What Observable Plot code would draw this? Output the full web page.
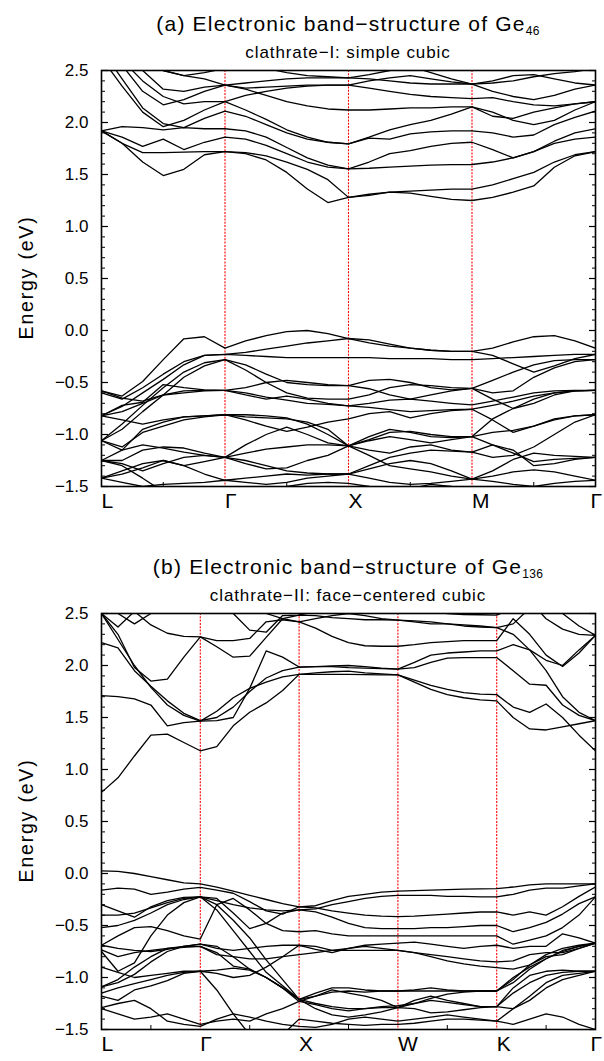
<!DOCTYPE html>
<html>
<head>
<meta charset="utf-8">
<script src="https://cdn.jsdelivr.net/npm/d3@7"></script>
<script src="https://cdn.jsdelivr.net/npm/@observablehq/plot@0.6"></script>
<style>
  html, body { margin: 0; padding: 0; background: #fff; }
  body { width: 604px; height: 1061px; position: relative; overflow: hidden;
         font-family: "Liberation Sans", Arial, Helvetica, sans-serif; color: #000; }
  .abs { position: absolute; }
  .title { left: 101px; width: 494px; text-align: center; font-size: 21px; line-height: 21px; letter-spacing: 1.2px; white-space: nowrap; }
  .title sub { font-size: 12px; vertical-align: -4px; letter-spacing: 0.3px; }
  .sub { left: 101px; width: 494px; text-align: center; font-size: 17px; line-height: 17px; letter-spacing: 0.9px; white-space: nowrap; }
  .ylab { font-size: 19.5px; letter-spacing: 1.8px; white-space: nowrap; transform-origin: center center; }
  svg { display: block; }
</style>
</head>
<body>
<div id="root"></div>
<script>
// ---------------- data ----------------
const STEPS = 6; // k samples per path segment
const kLabelsA = ["L", "Γ", "X", "M", "Γ"];
const kLabelsB = ["L", "Γ", "X", "W", "K", "Γ"];
const energyTicks = [-1.5, -1.0, -0.5, 0.0, 0.5, 1.0, 1.5, 2.0, 2.5];
const titleA = ["(a) Electronic band−structure of Ge", "46", "clathrate−I: simple cubic"];
const titleB = ["(b) Electronic band−structure of Ge", "136", "clathrate−II: face−centered cubic"];

// Ge46, path L-Γ-X-M-Γ, 6 samples per segment (25 values per band), eV
const bandsA = [
  // conduction bands
  [1.92,1.80,1.62,1.49,1.55,1.69,1.72, 1.70,1.64,1.52,1.36,1.23,1.28, 1.30,1.33,1.32,1.29,1.26,1.25, 1.28,1.33,1.39,1.57,1.68,1.72],
  [1.92,1.80,1.71,1.71,1.715,1.72,1.72, 1.71,1.68,1.62,1.55,1.45,1.28, 1.31,1.33,1.34,1.35,1.36,1.36, 1.40,1.46,1.52,1.62,1.69,1.72],
  [1.92,1.86,1.77,1.84,1.74,1.81,1.86, 1.84,1.78,1.70,1.62,1.57,1.555, 1.56,1.57,1.58,1.59,1.595,1.596, 1.62,1.66,1.72,1.80,1.84,1.86],
  [1.92,1.96,1.95,1.93,1.95,1.94,1.94, 1.92,1.86,1.76,1.66,1.59,1.555, 1.62,1.70,1.73,1.77,1.80,1.81, 1.74,1.66,1.72,1.82,1.90,1.94],
  [2.62,2.35,2.10,1.96,2.02,2.12,2.20, 2.12,2.03,1.93,1.86,1.81,1.795, 1.85,1.84,1.89,1.91,1.92,1.92, 1.90,1.86,1.88,1.98,2.05,2.11],
  [2.70,2.42,2.14,1.99,1.95,2.04,2.11, 2.06,1.98,1.90,1.84,1.81,1.795, 1.86,1.93,1.98,2.02,2.08,2.15, 2.10,2.02,1.98,2.02,2.12,2.20],
  [2.75,2.55,2.30,2.17,2.22,2.30,2.36, 2.32,2.26,2.20,2.16,2.13,2.12, 2.12,2.13,2.14,2.14,2.15,2.15, 2.06,2.04,2.10,2.14,2.18,2.20],
  [2.80,2.60,2.40,2.25,2.18,2.20,2.20, 2.26,2.30,2.33,2.35,2.36,2.36, 2.33,2.30,2.27,2.25,2.24,2.23, 2.24,2.20,2.17,2.16,2.18,2.20],
  [2.90,2.70,2.50,2.32,2.30,2.34,2.36, 2.38,2.40,2.42,2.43,2.43,2.43, 2.42,2.40,2.38,2.37,2.37,2.37, 2.30,2.25,2.22,2.26,2.32,2.36],
  [3.00,2.80,2.60,2.50,2.45,2.42,2.36, 2.33,2.34,2.35,2.36,2.36,2.36, 2.40,2.43,2.45,2.42,2.39,2.37, 2.40,2.45,2.46,2.42,2.38,2.36],
  [3.00,2.85,2.62,2.50,2.45,2.48,2.52, 2.55,2.52,2.48,2.45,2.44,2.43, 2.46,2.50,2.54,2.48,2.42,2.37, 2.38,2.40,2.44,2.47,2.49,2.52],
  // valence bands
  [-0.58,-0.63,-0.49,-0.28,-0.08,-0.06,-0.17, -0.10,-0.05,-0.01,0.00,-0.03,-0.077, -0.12,-0.15,-0.17,-0.19,-0.20,-0.20, -0.17,-0.11,-0.06,-0.05,-0.10,-0.17],
  [-0.60,-0.66,-0.55,-0.42,-0.30,-0.24,-0.23, -0.21,-0.18,-0.15,-0.12,-0.10,-0.077, -0.09,-0.13,-0.17,-0.19,-0.20,-0.20, -0.24,-0.32,-0.40,-0.34,-0.27,-0.23],
  [-0.82,-0.73,-0.60,-0.47,-0.33,-0.24,-0.23, -0.24,-0.25,-0.26,-0.26,-0.26,-0.26, -0.26,-0.27,-0.27,-0.27,-0.28,-0.28, -0.27,-0.26,-0.25,-0.24,-0.23,-0.23],
  [-1.06,-0.90,-0.72,-0.55,-0.40,-0.31,-0.28, -0.33,-0.42,-0.50,-0.52,-0.53,-0.53, -0.48,-0.47,-0.50,-0.55,-0.57,-0.556, -0.48,-0.40,-0.33,-0.29,-0.28,-0.28],
  [-1.06,-0.95,-0.78,-0.62,-0.45,-0.34,-0.28, -0.38,-0.50,-0.60,-0.65,-0.66,-0.66, -0.62,-0.55,-0.52,-0.53,-0.55,-0.556, -0.60,-0.58,-0.45,-0.36,-0.30,-0.28],
  [-0.58,-0.65,-0.68,-0.62,-0.58,-0.575,-0.575, -0.60,-0.64,-0.67,-0.70,-0.71,-0.725, -0.70,-0.67,-0.66,-0.68,-0.70,-0.716, -0.68,-0.64,-0.60,-0.58,-0.575,-0.575],
  [-0.82,-0.72,-0.69,-0.52,-0.55,-0.57,-0.575, -0.62,-0.66,-0.63,-0.66,-0.70,-0.725, -0.74,-0.76,-0.78,-0.77,-0.76,-0.757, -0.72,-0.68,-0.63,-0.60,-0.58,-0.575],
  [-1.25,-1.15,-0.95,-0.88,-0.83,-0.82,-0.81, -0.81,-0.82,-0.84,-0.90,-1.00,-1.11, -1.05,-0.98,-0.97,-1.00,-1.02,-1.02, -0.85,-0.75,-0.66,-0.60,-0.58,-0.575],
  [-1.06,-1.12,-0.98,-0.92,-0.86,-0.83,-0.81, -0.83,-0.84,-0.85,-0.88,-0.95,-1.11, -1.02,-0.95,-0.98,-1.02,-1.03,-1.02, -0.98,-0.96,-0.92,-0.86,-0.82,-0.81],
  [-1.06,-1.15,-1.10,-1.13,-1.17,-1.20,-1.22, -1.10,-1.00,-0.93,-1.00,-1.08,-1.11, -1.15,-1.18,-1.12,-1.10,-1.15,-1.17, -1.22,-1.20,-1.12,-1.00,-0.88,-0.81],
  [-1.25,-1.25,-1.15,-1.12,-1.13,-1.18,-1.22, -1.28,-1.33,-1.32,-1.25,-1.20,-1.11, -1.20,-1.30,-1.33,-1.36,-1.40,-1.43, -1.35,-1.24,-1.18,-1.20,-1.21,-1.22],
  [-1.42,-1.38,-1.32,-1.25,-1.30,-1.38,-1.44, -1.42,-1.40,-1.38,-1.39,-1.38,-1.38, -1.33,-1.28,-1.25,-1.28,-1.35,-1.43, -1.40,-1.36,-1.34,-1.36,-1.40,-1.44],
  [-1.42,-1.46,-1.50,-1.48,-1.47,-1.46,-1.44, -1.46,-1.48,-1.46,-1.42,-1.40,-1.38, -1.42,-1.46,-1.48,-1.47,-1.45,-1.43, -1.45,-1.48,-1.50,-1.47,-1.45,-1.44],
  [-1.25,-1.30,-1.42,-1.55,-1.60,-1.55,-1.60, -1.60,-1.55,-1.50,-1.47,-1.46,-1.47, -1.50,-1.55,-1.52,-1.48,-1.50,-1.55, -1.58,-1.55,-1.52,-1.55,-1.58,-1.60],
  [-0.82,-0.86,-0.90,-0.86,-0.83,-0.82,-0.81, -0.86,-0.92,-0.97,-0.93,-0.88,-0.85, -0.80,-0.78,-0.84,-0.80,-0.77,-0.757, -0.86,-0.98,-0.92,-0.85,-0.82,-0.81],
  [-1.42,-1.35,-1.28,-1.25,-1.30,-1.26,-1.22, -1.25,-1.30,-1.35,-1.37,-1.38,-1.38, -1.30,-1.22,-1.18,-1.15,-1.16,-1.17, -1.10,-1.18,-1.26,-1.24,-1.23,-1.22],
  [-0.82,-0.78,-0.70,-0.62,-0.60,-0.58,-0.575, -0.55,-0.50,-0.48,-0.50,-0.52,-0.53, -0.56,-0.62,-0.66,-0.62,-0.58,-0.556, -0.66,-0.75,-0.70,-0.62,-0.58,-0.575],
  [-1.25,-1.28,-1.35,-1.28,-1.22,-1.20,-1.22, -1.18,-1.14,-1.12,-1.10,-1.10,-1.11, -1.06,-1.02,-1.05,-1.08,-1.05,-1.02, -1.10,-1.15,-1.30,-1.28,-1.24,-1.22]
];

// Ge136, path L-Γ-X-W-K-Γ, 6 samples per segment (31 values per band), eV
const bandsB = [
  // conduction bands
  [0.78,0.92,1.13,1.33,1.34,1.26,1.18, 1.22,1.42,1.55,1.64,1.76,1.915, 1.915,1.915,1.915,1.912,1.91,1.91, 1.86,1.81,1.77,1.74,1.725,1.72, 1.60,1.55,1.63,1.50,1.33,1.18],
  [1.71,1.70,1.68,1.62,1.42,1.45,1.465, 1.47,1.50,1.78,2.14,2.08,1.985, 1.99,1.995,2.00,1.99,1.975,1.966, 1.98,2.03,2.07,2.075,2.076,2.076, 1.95,1.82,1.81,1.62,1.52,1.47],
  [2.50,2.25,2.00,1.79,1.62,1.52,1.465, 1.56,1.69,1.78,1.84,1.89,1.915, 1.93,1.94,1.945,1.93,1.92,1.91, 1.84,1.77,1.72,1.69,1.67,1.66, 1.50,1.39,1.38,1.41,1.44,1.47],
  [2.22,2.17,1.95,1.80,1.66,1.54,1.47, 1.50,1.60,1.75,1.88,1.95,1.985, 1.99,1.99,1.98,1.975,1.97,1.966, 2.03,2.10,2.12,2.13,2.14,2.14, 2.20,2.15,1.95,1.70,1.55,1.47],
  [2.50,2.30,1.98,1.85,1.87,2.08,2.275, 2.18,2.08,2.09,2.27,2.45,2.485, 2.48,2.46,2.45,2.44,2.44,2.436, 2.43,2.42,2.40,2.38,2.37,2.365, 2.30,2.15,2.05,2.00,2.15,2.29],
  [2.90,2.75,2.52,2.39,2.31,2.28,2.275, 2.24,2.24,2.26,2.42,2.44,2.42, 2.36,2.28,2.22,2.19,2.185,2.185, 2.20,2.22,2.23,2.24,2.24,2.24, 2.45,2.30,2.10,1.99,2.12,2.29],
  [2.50,2.37,2.52,2.65,2.70,2.70,2.70, 2.65,2.50,2.34,2.32,2.48,2.485, 2.52,2.55,2.60,2.60,2.58,2.56, 2.55,2.52,2.50,2.49,2.488,2.485, 2.55,2.62,2.45,2.35,2.30,2.29],
  [2.60,2.50,2.40,2.50,2.60,2.70,2.80, 2.75,2.70,2.60,2.50,2.45,2.42, 2.45,2.48,2.50,2.48,2.45,2.436, 2.42,2.40,2.40,2.39,2.38,2.365, 2.40,2.55,2.60,2.50,2.38,2.29],
  // valence bands
  [0.025,0.02,0.00,-0.03,-0.06,-0.09,-0.10, -0.13,-0.17,-0.21,-0.25,-0.29,-0.32, -0.31,-0.26,-0.22,-0.20,-0.18,-0.17, -0.165,-0.16,-0.155,-0.15,-0.147,-0.145, -0.13,-0.11,-0.10,-0.10,-0.10,-0.10],
  [-0.16,-0.14,-0.15,-0.20,-0.18,-0.15,-0.134, -0.16,-0.19,-0.27,-0.36,-0.39,-0.32, -0.33,-0.36,-0.38,-0.40,-0.41,-0.415, -0.41,-0.40,-0.39,-0.38,-0.37,-0.37, -0.40,-0.37,-0.40,-0.32,-0.22,-0.13],
  [-0.30,-0.36,-0.42,-0.32,-0.26,-0.23,-0.224, -0.24,-0.38,-0.53,-0.48,-0.38,-0.35, -0.37,-0.42,-0.48,-0.52,-0.53,-0.53, -0.53,-0.52,-0.52,-0.51,-0.50,-0.50, -0.56,-0.52,-0.47,-0.39,-0.29,-0.224],
  [-0.40,-0.40,-0.38,-0.33,-0.28,-0.24,-0.224, -0.30,-0.45,-0.62,-0.83,-1.02,-1.21, -1.18,-1.12,-1.15,-1.18,-1.22,-1.29, -1.25,-1.22,-1.24,-1.26,-1.28,-1.28, -1.10,-0.98,-0.94,-0.93,-0.94,-0.94],
  [-0.75,-0.94,-0.86,-0.60,-0.40,-0.28,-0.224, -0.35,-0.55,-0.75,-0.95,-1.08,-1.21, -1.15,-1.10,-1.10,-1.12,-1.13,-1.13, -1.13,-1.13,-1.13,-1.13,-1.13,-1.13, -1.05,-0.92,-0.82,-0.75,-0.70,-0.67],
  [-0.69,-0.60,-0.52,-0.51,-0.55,-0.60,-0.63, -0.30,-0.24,-0.35,-0.48,-0.55,-0.56, -0.55,-0.58,-0.60,-0.60,-0.60,-0.60, -0.60,-0.60,-0.60,-0.60,-0.60,-0.60, -0.68,-0.64,-0.60,-0.52,-0.40,-0.224],
  [-0.69,-0.72,-0.74,-0.75,-0.73,-0.70,-0.68, -0.72,-0.74,-0.72,-0.70,-0.69,-0.69, -0.73,-0.76,-0.72,-0.69,-0.68,-0.67, -0.66,-0.68,-0.70,-0.72,-0.70,-0.69, -0.72,-0.70,-0.70,-0.58,-0.62,-0.67],
  [-0.735,-0.80,-0.76,-0.74,-0.72,-0.71,-0.70, -0.76,-0.89,-0.92,-1.00,-1.10,-1.21, -1.25,-1.28,-1.30,-1.30,-1.29,-1.29, -1.22,-1.18,-1.22,-1.25,-1.28,-1.28, -1.15,-1.05,-0.98,-0.95,-0.94,-0.94],
  [-1.09,-1.02,-0.90,-0.80,-0.72,-0.70,-0.70, -0.78,-0.80,-0.82,-0.82,-0.80,-0.78, -0.76,-0.74,-0.74,-0.74,-0.74,-0.74, -0.76,-0.78,-0.80,-0.82,-0.84,-0.85, -0.84,-0.78,-0.76,-0.76,-0.72,-0.67],
  [-1.15,-1.10,-1.06,-1.02,-0.98,-0.95,-0.94, -0.93,-0.91,-0.93,-1.00,-1.10,-1.21, -1.30,-1.36,-1.38,-1.36,-1.33,-1.29, -1.30,-1.34,-1.33,-1.31,-1.29,-1.28, -1.30,-1.22,-1.10,-1.02,-0.98,-0.94],
  [-1.18,-1.22,-1.12,-1.08,-1.03,-0.96,-0.94, -1.12,-1.35,-1.55,-1.60,-1.55,-1.40, -1.42,-1.44,-1.45,-1.46,-1.45,-1.45, -1.44,-1.42,-1.40,-1.40,-1.41,-1.42, -1.30,-1.18,-1.05,-0.98,-0.96,-0.94],
  [-1.29,-1.25,-1.22,-1.30,-1.42,-1.45,-1.47, -1.40,-1.35,-1.38,-1.42,-1.45,-1.47, -1.48,-1.45,-1.40,-1.38,-1.40,-1.42, -1.40,-1.38,-1.36,-1.38,-1.40,-1.42, -1.45,-1.40,-1.35,-1.38,-1.45,-1.50],
  [-0.90,-0.95,-1.00,-0.98,-0.96,-0.94,-0.94, -0.96,-1.00,-0.98,-0.90,-0.80,-0.69, -0.70,-0.74,-0.72,-0.70,-0.72,-0.74, -0.76,-0.80,-0.84,-0.87,-0.89,-0.905, -0.92,-0.88,-0.80,-0.78,-0.72,-0.67],
  [-1.09,-1.05,-0.97,-0.85,-0.75,-0.70,-0.68, -0.70,-0.80,-0.92,-1.00,-1.10,-1.23, -1.18,-1.14,-1.13,-1.14,-1.13,-1.13, -1.12,-1.10,-1.12,-1.13,-1.13,-1.13, -1.00,-0.90,-0.82,-0.74,-0.70,-0.67],
  [-0.52,-0.50,-0.45,-0.38,-0.30,-0.25,-0.224, -0.26,-0.30,-0.33,-0.35,-0.36,-0.35, -0.34,-0.30,-0.27,-0.24,-0.22,-0.21, -0.21,-0.21,-0.22,-0.22,-0.224,-0.224, -0.20,-0.16,-0.14,-0.14,-0.12,-0.10],
  [-1.30,-1.35,-1.40,-1.38,-1.35,-1.40,-1.45, -1.42,-1.40,-1.42,-1.35,-1.30,-1.23, -1.26,-1.30,-1.32,-1.30,-1.28,-1.27, -1.25,-1.20,-1.16,-1.14,-1.13,-1.13, -1.02,-0.88,-0.78,-0.72,-0.69,-0.67]
];

// ---------------- drawing ----------------
const FONT = '"Liberation Sans", Arial, Helvetica, sans-serif';
const root = document.getElementById("root");

function addDiv(cls, html, top, extraStyle) {
  const d = document.createElement("div");
  d.className = "abs " + cls;
  d.innerHTML = html;
  d.style.top = top + "px";
  if (extraStyle) Object.assign(d.style, extraStyle);
  root.appendChild(d);
  return d;
}

function bandPlot(bands, labels) {
  const nSeg = labels.length - 1;
  const rows = [];
  bands.forEach((b, i) => b.forEach((e, j) => rows.push({band: i, k: j / STEPS, e})));
  const kTicks = labels.map((_, i) => i);
  const kInner = kTicks.slice(1, -1);
  const kMid = kTicks.slice(1).map(i => i - 0.5);
  const minorY = d3.ticks(-1.5, 2.5, 40);
  const fmt = d3.format(".1f");
  const xLab = {anchor: "bottom", tickSize: 0, tickPadding: 7, tickFormat: i => labels[i], textAnchor: "start", fontSize: 21, label: null};
  return Plot.plot({
    width: 604,
    height: 454,
    marginLeft: 101,
    marginRight: 9,
    marginTop: 8,
    marginBottom: 30,
    x: {domain: [0, nSeg], axis: null},
    y: {domain: [-1.5, 2.5], axis: null},
    style: {fontFamily: FONT, background: "transparent", overflow: "visible", color: "black"},
    marks: [
      Plot.ruleX(kInner, {stroke: "#ff0000", strokeWidth: 1.1, strokeDasharray: "2,1.3"}),
      Plot.line(rows, {x: "k", y: "e", z: "band", stroke: "black", strokeWidth: 1.3, clip: true}),
      Plot.frame({stroke: "black", strokeWidth: 1.6}),
      // inward ticks, left and right
      Plot.axisY(energyTicks, {anchor: "left", tickSize: 7, dx: 7, fill: "none", label: null, strokeWidth: 1.2}),
      Plot.axisY(minorY, {anchor: "left", tickSize: 4, dx: 4, fill: "none", label: null}),
      Plot.axisY(energyTicks, {anchor: "right", tickSize: 7, dx: -7, fill: "none", label: null, strokeWidth: 1.2}),
      Plot.axisY(minorY, {anchor: "right", tickSize: 4, dx: -4, fill: "none", label: null}),
      Plot.axisX(kMid, {anchor: "bottom", tickSize: 4, dy: -4, fill: "none", label: null}),
      // tick labels
      Plot.axisY(energyTicks, {anchor: "left", tickSize: 0, tickPadding: 13, tickFormat: fmt, fontSize: 17, label: null}),
      Plot.axisX(kTicks.slice(0, -1), xLab),
      Plot.axisX([nSeg], {...xLab, dx: -5})
    ]
  });
}

function panel(bands, labels, title, offset) {
  addDiv("title", `${title[0]}<sub>${title[1]}</sub>`, offset + 13);
  addDiv("sub", title[2], offset + 44);
  const holder = document.createElement("div");
  holder.className = "abs";
  holder.style.left = "0px";
  holder.style.top = (offset + 62) + "px";
  holder.appendChild(bandPlot(bands, labels));
  root.appendChild(holder);
  const yl = addDiv("ylab", "Energy (eV)", offset + 266);
  yl.style.left = "26px";
  yl.style.transform = "translate(-50%, 0) rotate(-90deg)";
}

panel(bandsA, kLabelsA, titleA, 0);
panel(bandsB, kLabelsB, titleB, 543);
</script>
</body>
</html>
